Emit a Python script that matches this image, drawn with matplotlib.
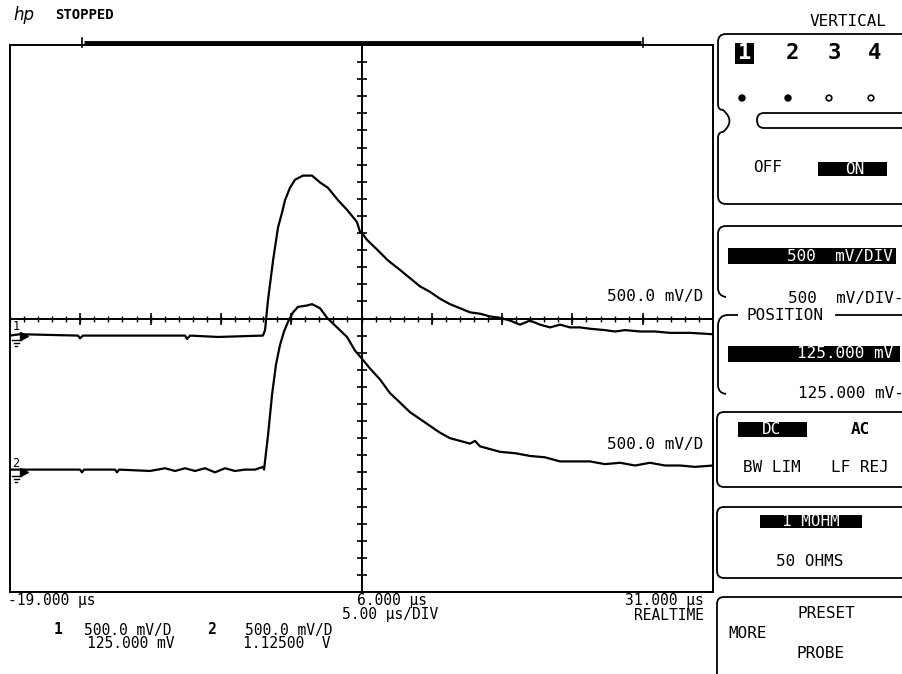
import matplotlib
matplotlib.use('Agg')
import numpy as np
import matplotlib.pyplot as plt
from matplotlib.patches import FancyBboxPatch, Rectangle, PathPatch, Circle
from matplotlib.path import Path

# --- data (time in us, volts) ---
t1 = [-19.0, -18.29, -14.16, -14.02, -13.81, -10.11, -6.55, -6.41, -6.2, -4.21, -1.01,
      -0.86, -0.65, -0.29, 0.06, 0.35, 0.56, 0.91, 1.27, 1.84, 2.48, 3.05, 3.62, 4.33,
      4.97, 5.68, 5.89, 6.04, 6.39, 7.10, 7.88, 8.74, 9.45, 10.16, 10.87, 11.58, 12.29,
      13.01, 13.72, 14.43, 15.14, 15.85, 16.56, 17.27, 17.98, 18.70, 19.41, 20.12, 20.83,
      21.54, 22.25, 23.32, 24.03, 24.74, 25.81, 26.88, 27.94, 29.37, 31.0]
v1 = [0.0, 0.01, 0.0, -0.02, 0.0, 0.0, 0.0, -0.025, 0.0, -0.01, 0.0,
      0.04, 0.26, 0.55, 0.79, 0.90, 0.99, 1.08, 1.14, 1.17, 1.17, 1.12, 1.08, 0.99,
      0.92, 0.83, 0.76, 0.75, 0.70, 0.63, 0.55, 0.48, 0.42, 0.36, 0.32, 0.27, 0.23,
      0.20, 0.17, 0.16, 0.14, 0.13, 0.11, 0.08, 0.11, 0.08, 0.06, 0.08, 0.06,
      0.06, 0.05, 0.04, 0.03, 0.04, 0.03, 0.03, 0.02, 0.02, 0.01]

t2 = [-19.0, -14.02, -13.88, -13.74, -11.53, -11.39, -11.24, -9.04, -7.97, -7.26, -6.55,
      -5.84, -5.13, -4.42, -3.71, -3.0, -2.29, -1.57, -1.01,
      -0.93, -0.65, -0.36, -0.08, 0.20, 0.49, 0.77, 1.13, 1.48, 2.12, 2.48, 3.05, 3.55,
      4.26, 4.97, 5.54, 6.04, 6.60, 7.31, 8.02, 8.74, 9.45, 10.16, 10.87, 11.58, 12.29,
      13.01, 13.72, 14.07, 14.43, 15.14, 15.85, 16.92, 17.98, 19.05, 20.12, 21.19, 22.25,
      23.32, 24.39, 25.46, 26.52, 27.59, 28.66, 29.72, 31.0]
v2 = [0.02, 0.02, 0.0, 0.02, 0.02, 0.0, 0.02, 0.01, 0.03, 0.01, 0.03,
      0.01, 0.03, 0.0, 0.03, 0.01, 0.02, 0.02, 0.04,
      0.02, 0.27, 0.57, 0.79, 0.93, 1.03, 1.10, 1.17, 1.21, 1.22, 1.23, 1.20, 1.13,
      1.06, 0.99, 0.89, 0.83, 0.76, 0.68, 0.58, 0.51, 0.44, 0.39, 0.34, 0.29, 0.25,
      0.23, 0.21, 0.23, 0.19, 0.17, 0.15, 0.14, 0.12, 0.11, 0.08, 0.08, 0.08,
      0.06, 0.07, 0.05, 0.07, 0.05, 0.05, 0.04, 0.05]

t_left, t_right, t_div = -19.0, 31.0, 5.0
ch1_scale, ch1_pos = 0.5, 0.125
ch2_scale, ch2_pos = 0.5, 1.125

bottom_time = ['-19.000 \u00b5s', '6.000 \u00b5s', '31.000 \u00b5s']
sweep_text = ['5.00 \u00b5s/DIV', 'REALTIME']
ch_labels = ['500.0 mV/D', '500.0 mV/D']
ch_pos_labels = ['125.000 mV', '1.12500  V']

W, H = 903, 674
MONO = 'DejaVu Sans Mono'
plt.rcParams['font.family'] = ['DejaVu Sans Mono', 'DejaVu Sans']

fig = plt.figure(figsize=(W / 100, H / 100), dpi=100)
fig.patch.set_facecolor('white')

# graticule area
ax = fig.add_axes([10 / W, 1 - 592 / H, 703 / W, 547 / H])
ax.set_xlim(t_left, t_right)
ax.set_ylim(ch1_pos - 4 * ch1_scale, ch1_pos + 4 * ch1_scale)
ax.set_xticks([]); ax.set_yticks([])
for s in ax.spines.values():
    s.set_linewidth(1.4)

ax2 = ax.twinx()
ax2.set_ylim(ch2_pos - 4 * ch2_scale, ch2_pos + 4 * ch2_scale)
ax2.set_yticks([])
for s in ax2.spines.values():
    s.set_visible(False)

# center axes with ticks
t_mid = (t_left + t_right) / 2
ax.axhline(ch1_pos, color='black', lw=1.4)
ax.axvline(t_mid, color='black', lw=1.4)
minor_t = np.arange(t_left, t_right + 0.01, t_div / 5)
major_t = np.arange(t_left, t_right + 0.01, t_div)
ax.plot(minor_t, np.full(len(minor_t), ch1_pos), ls='none', marker='|', ms=5, mew=1.0, color='black')
ax.plot(major_t, np.full(len(major_t), ch1_pos), ls='none', marker='|', ms=9, mew=1.2, color='black')
minor_v = np.arange(ch1_pos - 4 * ch1_scale, ch1_pos + 4 * ch1_scale + 0.01, ch1_scale / 4)
ax.plot(np.full(len(minor_v), t_mid), minor_v, ls='none', marker='_', ms=7, mew=1.2, color='black')

# traces
ax.plot(t1, v1, color='black', lw=1.6, solid_joinstyle='round')
ax2.plot(t2, v2, color='black', lw=1.6, solid_joinstyle='round')

# overlay in pixel units for the screen furniture
ui = fig.add_axes([0, 0, 1, 1])
ui.set_xlim(0, W); ui.set_ylim(H, 0)
ui.axis('off')
ui.patch.set_alpha(0)


def txt(s, x, y, ha='left', size=11.5, **kw):
    ui.text(x, y, s, ha=ha, va='center', fontsize=size, family=MONO, **kw)


def inv(x0, y0, x1, y1):
    ui.add_patch(Rectangle((x0, y0), x1 - x0, y1 - y0, color='black', lw=0))


def path(verts, codes, lw=1.3):
    ui.add_patch(PathPatch(Path(verts, codes), fill=False, lw=lw, ec='black', clip_on=False))


def rbox(x0, y0, x1, y1, r=7):
    ui.add_patch(FancyBboxPatch((x0, y0), x1 - x0, y1 - y0,
                                boxstyle=f'round,pad=0,rounding_size={r}',
                                fill=False, lw=1.3, ec='black', clip_on=False))


M, L, C = Path.MOVETO, Path.LINETO, Path.CURVE3

# header
ui.text(13, 15, 'hp', fontsize=12, style='italic', family='DejaVu Sans', va='center')
txt('STOPPED', 55, 15, size=10, fontweight='bold')
ui.plot([84, 641], [43, 43], color='black', lw=3.5, solid_capstyle='butt')
ui.plot([82, 82], [38, 47], color='black', lw=1.2)
ui.plot([643, 643], [38, 47], color='black', lw=1.2)

# channel labels on screen
txt(ch_labels[0], 703, 296, ha='right')
txt(ch_labels[1], 703, 445, ha='right')

# ground markers
for axis, num in ((ax, '1'), (ax2, '2')):
    px, py = axis.transData.transform((t_left, 0.0))
    gy = H - py
    gx = px
    ui.text(gx + 6, gy - 9, num, fontsize=8.5, family=MONO, ha='center', va='center')
    ui.plot([gx + 14], [gy], marker='>', ms=6, color='black')
    ui.plot([gx + 2, gx + 11], [gy + 4, gy + 4], color='black', lw=1)
    ui.plot([gx + 4, gx + 9], [gy + 7, gy + 7], color='black', lw=1)
    ui.plot([gx + 5.5, gx + 7.5], [gy + 10, gy + 10], color='black', lw=1)

# bottom annotations
BS = 10.5
txt(bottom_time[0], 8, 601, size=BS)
txt(bottom_time[1], 357, 601, size=BS)
txt(bottom_time[2], 704, 601, ha='right', size=BS)
txt(sweep_text[0], 438, 615, ha='right', size=BS)
txt(sweep_text[1], 704, 615, ha='right', size=BS)
txt('1', 58, 630, ha='center', fontweight='bold', size=BS)
txt(ch_labels[0], 84, 630, size=BS)
txt('2', 212, 630, ha='center', fontweight='bold', size=BS)
txt(ch_labels[1], 245, 630, size=BS)
txt(ch_pos_labels[0], 87, 644, size=BS)
txt(ch_pos_labels[1], 243, 644, size=BS)

# right-hand softkey panel
txt('VERTICAL', 810, 21)
path([(910, 34), (726, 34), (718, 34), (718, 42), (718, 104), (718, 110), (723, 110),
      (736, 121), (723, 132), (718, 132), (718, 138), (718, 196), (718, 204), (726, 204), (910, 204)],
     [M, L, C, C, L, C, C, C, C, C, C, L, C, C, L])
path([(910, 113), (764, 113), (757, 113), (757, 120), (757, 128), (764, 128), (910, 128)],
     [M, L, C, C, C, C, L])
inv(735, 43, 754, 64)
txt('1', 744.5, 53, ha='center', size=16, fontweight='bold', color='white')
txt('2', 792, 53, ha='center', size=16, fontweight='bold')
txt('3', 834, 53, ha='center', size=16, fontweight='bold')
txt('4', 875, 53, ha='center', size=16, fontweight='bold')
for x in (742, 788):
    ui.add_patch(Circle((x, 98), 3, color='black'))
for x in (829, 871):
    ui.add_patch(Circle((x, 98), 2.8, fill=False, ec='black', lw=1.2))
txt('OFF', 768, 168, ha='center')
inv(818, 162, 887, 176)
txt('ON', 855, 169, ha='center', color='white')

path([(910, 226), (726, 226), (718, 226), (718, 234), (718, 288), (718, 296), (726, 297)],
     [M, L, C, C, L, C, C])
inv(728, 248, 896, 264)
txt('500  mV/DIV', 893, 256, ha='right', color='white')
txt('500  mV/DIV-', 904, 299, ha='right')

path([(738, 315), (728, 315), (718, 315), (718, 326), (718, 385), (718, 393), (726, 394)],
     [M, L, C, C, L, C, C])
ui.plot([836, 910], [315, 315], color='black', lw=1.3)
txt('POSITION', 785, 315, ha='center')
inv(728, 346, 900, 362)
txt('125.000 mV', 893, 354, ha='right', color='white')
txt('125.000 mV-', 904, 393, ha='right')

rbox(717, 412, 912, 487)
inv(738, 422, 807, 437)
txt('DC', 772, 429, ha='center', color='white')
txt('AC', 860, 429, ha='center', fontweight='bold')
txt('BW LIM', 772, 468, ha='center')
txt('LF REJ', 860, 468, ha='center')

rbox(717, 507, 912, 578)
inv(760, 515, 862, 528)
txt('1 MOHM', 811, 521, ha='center', color='white')
txt('50 OHMS', 810, 561, ha='center')

rbox(717, 597, 912, 684)
txt('PRESET', 826, 614, ha='center')
txt('MORE', 748, 633, ha='center')
txt('PROBE', 821, 654, ha='center')

fig.savefig('out.png', dpi=100)
